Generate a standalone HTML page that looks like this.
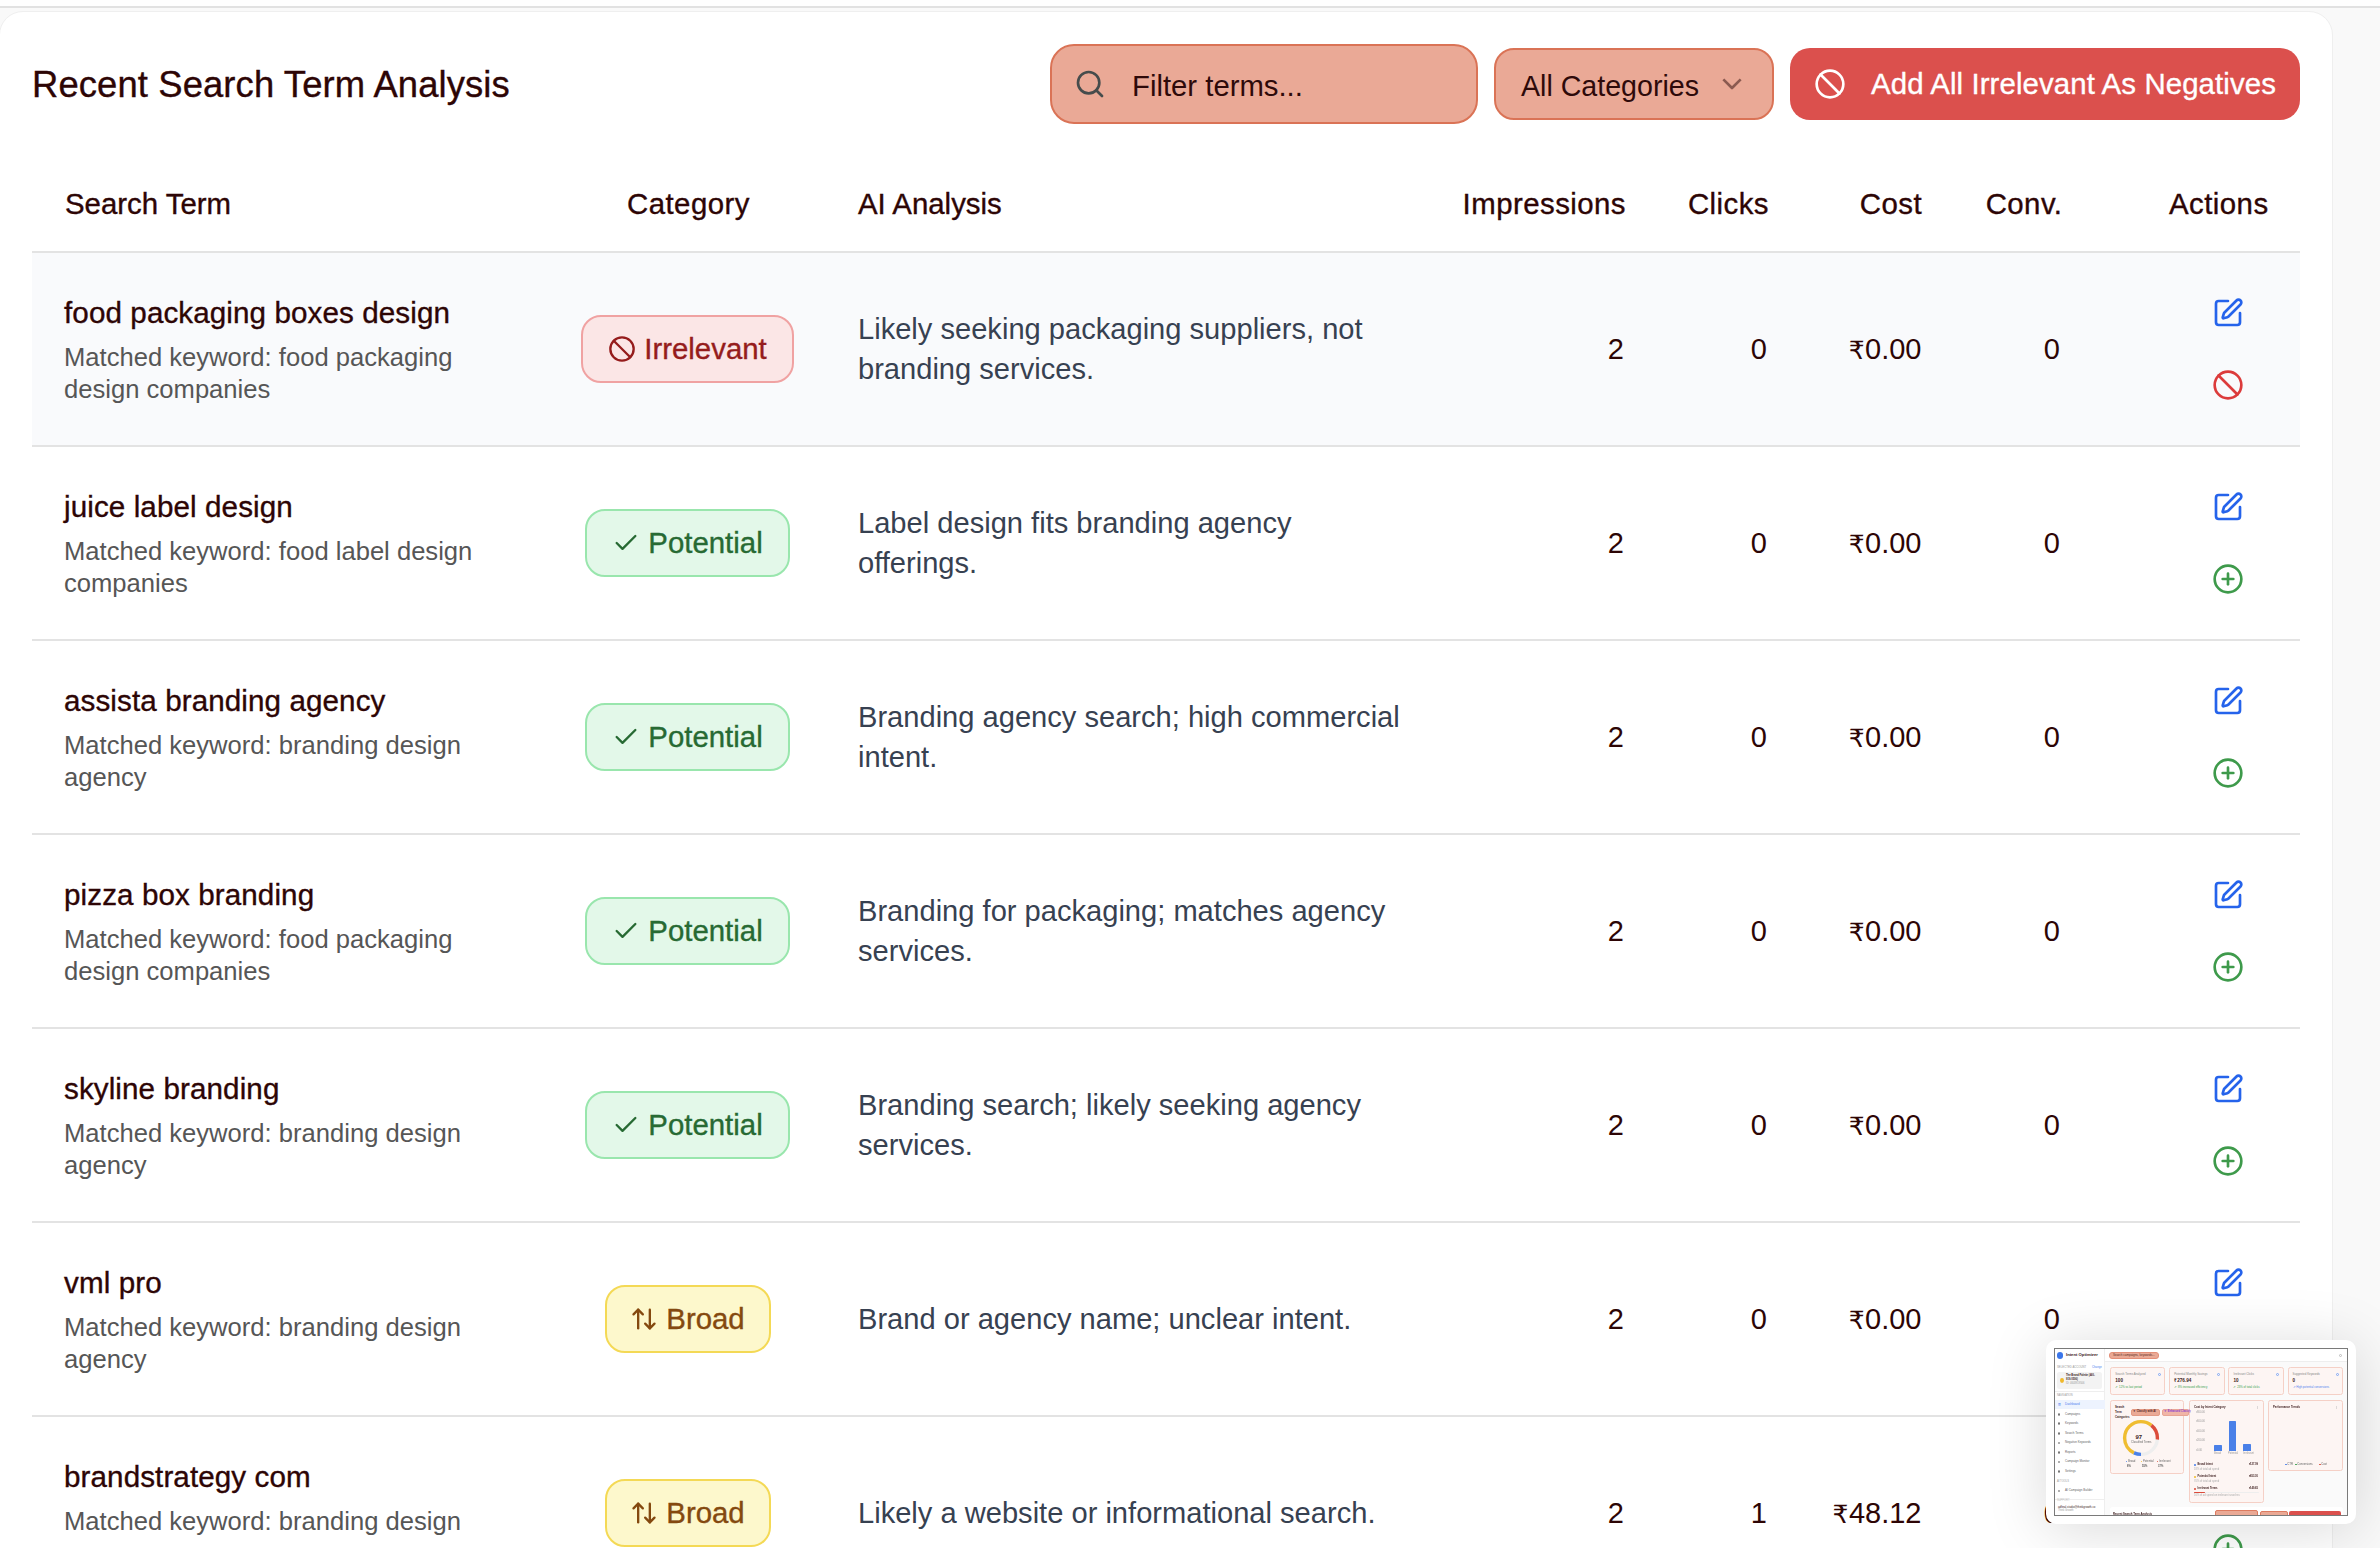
<!DOCTYPE html>
<html><head><meta charset="utf-8">
<title>Recent Search Term Analysis</title>
<style>
*{box-sizing:border-box;margin:0;padding:0}
html,body{width:2380px;height:1548px;overflow:hidden}
body{background:#f9f9f9;font-family:"Liberation Sans","DejaVu Sans",sans-serif;color:#2d0505;position:relative}
h2{font-weight:400}
.topstrip{position:absolute;left:0;top:0;width:2380px;height:6px;background:#fefefe}
.topline{position:absolute;left:0;top:6px;width:2380px;height:2px;background:#e1e1e1}
.card{position:absolute;left:-1px;top:11px;width:2334px;height:1600px;background:#fff;border:1px solid #efefef;border-radius:24px}
.abs{position:absolute;white-space:nowrap;line-height:1}
.med{-webkit-text-stroke:0.35px currentColor}
.input{position:absolute;left:1050px;top:44px;width:428px;height:80px;background:#eaa996;border:2px solid #da7356;border-radius:24px}
.select{position:absolute;left:1494px;top:48px;width:280px;height:72px;background:#eaa996;border:2px solid #da7356;border-radius:20px}
.btn{position:absolute;left:1790px;top:48px;width:510px;height:72px;background:#db504d;border-radius:20px}
.ph{font-size:29.3px;color:#2e0a0a}
.btxt{font-size:29.4px;color:#fff}
.th{font-size:29.4px}
.hline{position:absolute;left:32px;top:251px;width:2268px;height:2px;background:#e3e3e3}
.row{position:absolute;left:32px;width:2268px;height:194px}
.row .bg{position:absolute;left:0;top:0;width:2268px;height:192px}
.row.hl .bg{background:#f9fafc}
.row .ln{position:absolute;left:0;top:192px;width:2268px;height:2px;background:#e3e3e3}
.term{font-size:29.6px;letter-spacing:0.1px}
.kw{font-size:25.6px;line-height:32px;color:#565656}
.ai{font-size:29.1px;line-height:40px;color:#374151}
.num{font-size:29px}
.badge{position:absolute;height:68px;border:2px solid;border-radius:20px;display:flex;align-items:center;justify-content:center;font-size:29.4px;line-height:1;white-space:nowrap}
.badge .bic{width:28px;height:28px;fill:none;stroke:currentColor;stroke-width:2;stroke-linecap:round;stroke-linejoin:round;margin-right:8px;flex:none}
.b-irr{background:#fbe6e6;border-color:#f0a2a2;color:#951c1c}
.b-pot{background:#e3f8e9;border-color:#99e6ad;color:#276a33}
.b-brd{background:#fdf8cc;border-color:#f4d955;color:#84490f}
.ic{position:absolute;fill:none;stroke:currentColor;stroke-linecap:round;stroke-linejoin:round;overflow:visible}
.title{left:32px;letter-spacing:0.12px}

.rs{font-size:0.86em;margin-right:0.5px}
.ls{letter-spacing:0.45px}
.btxt{letter-spacing:0.1px}

</style></head><body>
<div class="topstrip"></div><div class="topline"></div><div class="card"></div>
<h2 class="abs med title" style="top:67.19px;font-size:36.4px">Recent Search Term Analysis</h2>
<div class="input"></div>
<svg class="ic" style="left:1074px;top:68px;width:32px;height:32px;color:#464c4c" viewBox="0 0 24 24" stroke-width="2"><circle cx="11" cy="11" r="8"/><path d="m21 21-4.3-4.3"/></svg>
<div class="abs ph" style="left:1132px;top:71.20px">Filter terms...</div>
<div class="select"></div>
<div class="abs ph" style="left:1521px;top:71.79px;font-size:28.6px">All Categories</div>
<svg class="ic" style="left:1716px;top:68px;width:32px;height:32px;color:#8b5a50;stroke-linecap:butt;stroke-linejoin:round" viewBox="0 0 24 24" stroke-width="2"><path d="M5.5 8.5 12 15l6.5-6.5"/></svg>
<div class="btn"></div>
<svg class="ic" style="left:1814px;top:68px;width:32px;height:32px;color:#ffffff" viewBox="0 0 24 24" stroke-width="2"><circle cx="12" cy="12" r="10"/><path d="m4.9 4.9 14.2 14.2"/></svg>
<div class="abs med btxt" style="left:1871px;top:69.11px">Add All Irrelevant As Negatives</div>
<div class="abs med th" style="left:65px;top:189.11px">Search Term</div>
<div class="abs med th ls" style="left:627px;top:189.11px">Category</div>
<div class="abs med th" style="left:858px;top:189.11px">AI Analysis</div>
<div class="abs med th ls" style="right:754px;top:189.11px">Impressions</div>
<div class="abs med th ls" style="right:611px;top:189.11px">Clicks</div>
<div class="abs med th ls" style="right:458px;top:189.11px">Cost</div>
<div class="abs med th ls" style="right:317.5px;top:189.11px">Conv.</div>
<div class="abs med th ls" style="left:2169px;top:189.11px">Actions</div>
<div class="hline"></div>
<div class="row hl" style="top:253px"><div class="bg"></div><div class="ln"></div></div>
<div class="abs med term" style="left:64px;top:297.94px">food packaging boxes design</div>
<div class="abs kw" style="left:64px;top:341.13px">Matched keyword: food packaging<br>design companies</div>
<div class="badge b-irr" style="left:581.0px;top:315px;width:213px"><svg class="bic" viewBox="0 0 24 24"><circle cx="12" cy="12" r="10"/><path d="m4.9 4.9 14.2 14.2"/></svg><span class="med">Irrelevant</span></div>
<div class="abs ai" style="left:858px;top:308.92px">Likely seeking packaging suppliers, not<br>branding services.</div>
<div class="abs num" style="right:756px;top:334.95px">2</div>
<div class="abs num" style="right:613px;top:334.95px">0</div>
<div class="abs num" style="right:458.5px;top:334.95px"><span class="rs">₹</span>0.00</div>
<div class="abs num" style="right:320px;top:334.95px">0</div>
<svg class="ic" style="left:2212px;top:297.4px;width:32px;height:32px;color:#2563eb" viewBox="0 0 24 24" stroke-width="2"><path d="M12 3H5a2 2 0 0 0-2 2v14a2 2 0 0 0 2 2h14a2 2 0 0 0 2-2v-7"/><path d="M18.375 2.625a1 1 0 0 1 3 3l-9.013 9.014a2 2 0 0 1-.853.505l-2.873.84a.5.5 0 0 1-.62-.62l.84-2.873a2 2 0 0 1 .506-.852z"/></svg>
<svg class="ic" style="left:2212px;top:368.7px;width:32px;height:32px;color:#dc3b3b" viewBox="0 0 24 24" stroke-width="2"><circle cx="12" cy="12" r="10"/><path d="m4.9 4.9 14.2 14.2"/></svg>
<div class="row" style="top:447px"><div class="bg"></div><div class="ln"></div></div>
<div class="abs med term" style="left:64px;top:491.94px">juice label design</div>
<div class="abs kw" style="left:64px;top:535.13px">Matched keyword: food label design<br>companies</div>
<div class="badge b-pot" style="left:585.0px;top:509px;width:205px"><svg class="bic" viewBox="0 0 24 24"><path d="M20 6 9 17l-5-5"/></svg><span class="med">Potential</span></div>
<div class="abs ai" style="left:858px;top:502.92px">Label design fits branding agency<br>offerings.</div>
<div class="abs num" style="right:756px;top:528.95px">2</div>
<div class="abs num" style="right:613px;top:528.95px">0</div>
<div class="abs num" style="right:458.5px;top:528.95px"><span class="rs">₹</span>0.00</div>
<div class="abs num" style="right:320px;top:528.95px">0</div>
<svg class="ic" style="left:2212px;top:491.4px;width:32px;height:32px;color:#2563eb" viewBox="0 0 24 24" stroke-width="2"><path d="M12 3H5a2 2 0 0 0-2 2v14a2 2 0 0 0 2 2h14a2 2 0 0 0 2-2v-7"/><path d="M18.375 2.625a1 1 0 0 1 3 3l-9.013 9.014a2 2 0 0 1-.853.505l-2.873.84a.5.5 0 0 1-.62-.62l.84-2.873a2 2 0 0 1 .506-.852z"/></svg>
<svg class="ic" style="left:2212px;top:562.7px;width:32px;height:32px;color:#3e9a4b" viewBox="0 0 24 24" stroke-width="2"><circle cx="12" cy="12" r="10"/><path d="M8 12h8"/><path d="M12 8v8"/></svg>
<div class="row" style="top:641px"><div class="bg"></div><div class="ln"></div></div>
<div class="abs med term" style="left:64px;top:685.94px">assista branding agency</div>
<div class="abs kw" style="left:64px;top:729.13px">Matched keyword: branding design<br>agency</div>
<div class="badge b-pot" style="left:585.0px;top:703px;width:205px"><svg class="bic" viewBox="0 0 24 24"><path d="M20 6 9 17l-5-5"/></svg><span class="med">Potential</span></div>
<div class="abs ai" style="left:858px;top:696.92px">Branding agency search; high commercial<br>intent.</div>
<div class="abs num" style="right:756px;top:722.95px">2</div>
<div class="abs num" style="right:613px;top:722.95px">0</div>
<div class="abs num" style="right:458.5px;top:722.95px"><span class="rs">₹</span>0.00</div>
<div class="abs num" style="right:320px;top:722.95px">0</div>
<svg class="ic" style="left:2212px;top:685.4px;width:32px;height:32px;color:#2563eb" viewBox="0 0 24 24" stroke-width="2"><path d="M12 3H5a2 2 0 0 0-2 2v14a2 2 0 0 0 2 2h14a2 2 0 0 0 2-2v-7"/><path d="M18.375 2.625a1 1 0 0 1 3 3l-9.013 9.014a2 2 0 0 1-.853.505l-2.873.84a.5.5 0 0 1-.62-.62l.84-2.873a2 2 0 0 1 .506-.852z"/></svg>
<svg class="ic" style="left:2212px;top:756.7px;width:32px;height:32px;color:#3e9a4b" viewBox="0 0 24 24" stroke-width="2"><circle cx="12" cy="12" r="10"/><path d="M8 12h8"/><path d="M12 8v8"/></svg>
<div class="row" style="top:835px"><div class="bg"></div><div class="ln"></div></div>
<div class="abs med term" style="left:64px;top:879.94px">pizza box branding</div>
<div class="abs kw" style="left:64px;top:923.13px">Matched keyword: food packaging<br>design companies</div>
<div class="badge b-pot" style="left:585.0px;top:897px;width:205px"><svg class="bic" viewBox="0 0 24 24"><path d="M20 6 9 17l-5-5"/></svg><span class="med">Potential</span></div>
<div class="abs ai" style="left:858px;top:890.92px">Branding for packaging; matches agency<br>services.</div>
<div class="abs num" style="right:756px;top:916.95px">2</div>
<div class="abs num" style="right:613px;top:916.95px">0</div>
<div class="abs num" style="right:458.5px;top:916.95px"><span class="rs">₹</span>0.00</div>
<div class="abs num" style="right:320px;top:916.95px">0</div>
<svg class="ic" style="left:2212px;top:879.4px;width:32px;height:32px;color:#2563eb" viewBox="0 0 24 24" stroke-width="2"><path d="M12 3H5a2 2 0 0 0-2 2v14a2 2 0 0 0 2 2h14a2 2 0 0 0 2-2v-7"/><path d="M18.375 2.625a1 1 0 0 1 3 3l-9.013 9.014a2 2 0 0 1-.853.505l-2.873.84a.5.5 0 0 1-.62-.62l.84-2.873a2 2 0 0 1 .506-.852z"/></svg>
<svg class="ic" style="left:2212px;top:950.7px;width:32px;height:32px;color:#3e9a4b" viewBox="0 0 24 24" stroke-width="2"><circle cx="12" cy="12" r="10"/><path d="M8 12h8"/><path d="M12 8v8"/></svg>
<div class="row" style="top:1029px"><div class="bg"></div><div class="ln"></div></div>
<div class="abs med term" style="left:64px;top:1073.94px">skyline branding</div>
<div class="abs kw" style="left:64px;top:1117.13px">Matched keyword: branding design<br>agency</div>
<div class="badge b-pot" style="left:585.0px;top:1091px;width:205px"><svg class="bic" viewBox="0 0 24 24"><path d="M20 6 9 17l-5-5"/></svg><span class="med">Potential</span></div>
<div class="abs ai" style="left:858px;top:1084.92px">Branding search; likely seeking agency<br>services.</div>
<div class="abs num" style="right:756px;top:1110.95px">2</div>
<div class="abs num" style="right:613px;top:1110.95px">0</div>
<div class="abs num" style="right:458.5px;top:1110.95px"><span class="rs">₹</span>0.00</div>
<div class="abs num" style="right:320px;top:1110.95px">0</div>
<svg class="ic" style="left:2212px;top:1073.4px;width:32px;height:32px;color:#2563eb" viewBox="0 0 24 24" stroke-width="2"><path d="M12 3H5a2 2 0 0 0-2 2v14a2 2 0 0 0 2 2h14a2 2 0 0 0 2-2v-7"/><path d="M18.375 2.625a1 1 0 0 1 3 3l-9.013 9.014a2 2 0 0 1-.853.505l-2.873.84a.5.5 0 0 1-.62-.62l.84-2.873a2 2 0 0 1 .506-.852z"/></svg>
<svg class="ic" style="left:2212px;top:1144.7px;width:32px;height:32px;color:#3e9a4b" viewBox="0 0 24 24" stroke-width="2"><circle cx="12" cy="12" r="10"/><path d="M8 12h8"/><path d="M12 8v8"/></svg>
<div class="row" style="top:1223px"><div class="bg"></div><div class="ln"></div></div>
<div class="abs med term" style="left:64px;top:1267.94px">vml pro</div>
<div class="abs kw" style="left:64px;top:1311.13px">Matched keyword: branding design<br>agency</div>
<div class="badge b-brd" style="left:604.5px;top:1285px;width:166px"><svg class="bic" viewBox="0 0 24 24"><path d="m21 16-4 4-4-4"/><path d="M17 20V4"/><path d="m3 8 4-4 4 4"/><path d="M7 4v16"/></svg><span class="med">Broad</span></div>
<div class="abs ai" style="left:858px;top:1298.92px">Brand or agency name; unclear intent.</div>
<div class="abs num" style="right:756px;top:1304.95px">2</div>
<div class="abs num" style="right:613px;top:1304.95px">0</div>
<div class="abs num" style="right:458.5px;top:1304.95px"><span class="rs">₹</span>0.00</div>
<div class="abs num" style="right:320px;top:1304.95px">0</div>
<svg class="ic" style="left:2212px;top:1267.4px;width:32px;height:32px;color:#2563eb" viewBox="0 0 24 24" stroke-width="2"><path d="M12 3H5a2 2 0 0 0-2 2v14a2 2 0 0 0 2 2h14a2 2 0 0 0 2-2v-7"/><path d="M18.375 2.625a1 1 0 0 1 3 3l-9.013 9.014a2 2 0 0 1-.853.505l-2.873.84a.5.5 0 0 1-.62-.62l.84-2.873a2 2 0 0 1 .506-.852z"/></svg>
<svg class="ic" style="left:2212px;top:1338.7px;width:32px;height:32px;color:#3e9a4b" viewBox="0 0 24 24" stroke-width="2"><circle cx="12" cy="12" r="10"/><path d="M8 12h8"/><path d="M12 8v8"/></svg>
<div class="row" style="top:1417px"><div class="bg"></div><div class="ln"></div></div>
<div class="abs med term" style="left:64px;top:1461.94px">brandstrategy com</div>
<div class="abs kw" style="left:64px;top:1505.13px">Matched keyword: branding design<br>agency</div>
<div class="badge b-brd" style="left:604.5px;top:1479px;width:166px"><svg class="bic" viewBox="0 0 24 24"><path d="m21 16-4 4-4-4"/><path d="M17 20V4"/><path d="m3 8 4-4 4 4"/><path d="M7 4v16"/></svg><span class="med">Broad</span></div>
<div class="abs ai" style="left:858px;top:1492.92px">Likely a website or informational search.</div>
<div class="abs num" style="right:756px;top:1498.95px">2</div>
<div class="abs num" style="right:613px;top:1498.95px">1</div>
<div class="abs num" style="right:458.5px;top:1498.95px"><span class="rs">₹</span>48.12</div>
<div class="abs num" style="right:320px;top:1498.95px">0</div>
<svg class="ic" style="left:2212px;top:1461.4px;width:32px;height:32px;color:#2563eb" viewBox="0 0 24 24" stroke-width="2"><path d="M12 3H5a2 2 0 0 0-2 2v14a2 2 0 0 0 2 2h14a2 2 0 0 0 2-2v-7"/><path d="M18.375 2.625a1 1 0 0 1 3 3l-9.013 9.014a2 2 0 0 1-.853.505l-2.873.84a.5.5 0 0 1-.62-.62l.84-2.873a2 2 0 0 1 .506-.852z"/></svg>
<svg class="ic" style="left:2212px;top:1532.7px;width:32px;height:32px;color:#3e9a4b" viewBox="0 0 24 24" stroke-width="2"><circle cx="12" cy="12" r="10"/><path d="M8 12h8"/><path d="M12 8v8"/></svg>
<div style="position:absolute;left:2046px;top:1340px;width:310px;height:184px;background:#fff;border-radius:10px;box-shadow:0 6px 60px rgba(0,0,0,0.15)"></div>
<div style="position:absolute;left:2054px;top:1348px;width:294px;height:168px;border:1px solid #7a7a7a;overflow:hidden;background:#fff;font-family:'Liberation Sans',sans-serif">
<div style="position:absolute;left:-1px;top:-1px;width:294px;height:168px;filter:blur(0.35px)">
<div style="position:absolute;left:0.0px;top:0.0px;width:294.0px;height:168.0px;background:#fafafa"></div>
<div style="position:absolute;left:0.0px;top:0.0px;width:51.0px;height:168.0px;background:#fff;border-right:0.5px solid #eee"></div>
<div style="position:absolute;left:51.0px;top:0.0px;width:243.0px;height:14.0px;background:#fff;border-bottom:0.5px solid #eee"></div>
<div style="position:absolute;left:3.0px;top:4.2px;width:6.4px;height:6.4px;background:#3b76ea;border-radius:50%"></div>
<div style="position:absolute;left:12.0px;top:5.1px;font-size:4.2px;line-height:1;color:#3a1a1a;white-space:nowrap;font-weight:bold">Intent Optimizer</div>
<div style="position:absolute;left:54.8px;top:3.7px;width:50.5px;height:7.3px;background:#eaa995;border:0.4px solid #e38f78;border-radius:3px"></div>
<div style="position:absolute;left:59.0px;top:5.8px;font-size:3px;line-height:1;color:#5a2a20;white-space:nowrap;">Search campaigns, keywords...</div>
<div style="position:absolute;left:285.0px;top:5.5px;width:3.0px;height:3.0px;border:0.5px solid #bbb;border-radius:50%"></div>
<div style="position:absolute;left:3.0px;top:17.5px;font-size:2.8px;line-height:1;color:#999;white-space:nowrap;">SELECTED ACCOUNT</div>
<div style="position:absolute;left:38.0px;top:17.5px;font-size:2.8px;line-height:1;color:#4d7ff0;white-space:nowrap;">Change</div>
<div style="position:absolute;left:3.0px;top:24.0px;width:45.0px;height:16.5px;background:#f3f3f3;border-radius:2.5px"></div>
<div style="position:absolute;left:5.5px;top:29.5px;width:4.5px;height:5.5px;background:#f0b92c;border-radius:50%"></div>
<div style="position:absolute;left:12.0px;top:27.1px;font-size:2.6px;line-height:1;color:#3a1a1a;white-space:nowrap;font-weight:bold">The Brand Palette (460-</div>
<div style="position:absolute;left:12.0px;top:31.1px;font-size:2.6px;line-height:1;color:#3a1a1a;white-space:nowrap;font-weight:bold">919-0506)</div>
<div style="position:absolute;left:12.0px;top:35.1px;font-size:2.6px;line-height:1;color:#999;white-space:nowrap;">ID: 4603919506</div>
<div style="position:absolute;left:0.0px;top:43.0px;width:51.0px;height:0.6px;background:#eee"></div>
<div style="position:absolute;left:3.0px;top:46.9px;font-size:2.6px;line-height:1;color:#999;white-space:nowrap;">NAVIGATION</div>
<div style="position:absolute;left:0.0px;top:52.3px;width:51.0px;height:8.7px;background:#edf3fe"></div>
<div style="position:absolute;left:4.0px;top:54.9px;font-size:3px;line-height:1;color:#4d7ff0;white-space:nowrap;">▥</div>
<div style="position:absolute;left:11.0px;top:54.9px;font-size:3px;line-height:1;color:#4d7ff0;white-space:nowrap;">Dashboard</div>
<div style="position:absolute;left:3.5px;top:64.9px;width:2.8px;height:2.8px;border:0.5px solid #777;border-radius:50%"></div>
<div style="position:absolute;left:11.0px;top:64.6px;font-size:3px;line-height:1;color:#666;white-space:nowrap;">Campaigns</div>
<div style="position:absolute;left:3.5px;top:74.4px;width:2.8px;height:2.8px;border:0.5px solid #777;border-radius:50%"></div>
<div style="position:absolute;left:11.0px;top:74.1px;font-size:3px;line-height:1;color:#666;white-space:nowrap;">Keywords</div>
<div style="position:absolute;left:3.5px;top:84.0px;width:2.8px;height:2.8px;border:0.5px solid #777;border-radius:50%"></div>
<div style="position:absolute;left:11.0px;top:83.8px;font-size:3px;line-height:1;color:#666;white-space:nowrap;">Search Terms</div>
<div style="position:absolute;left:3.5px;top:93.6px;width:2.8px;height:2.8px;border:0.5px solid #777;border-radius:50%"></div>
<div style="position:absolute;left:11.0px;top:93.3px;font-size:3px;line-height:1;color:#666;white-space:nowrap;">Negative Keywords</div>
<div style="position:absolute;left:3.5px;top:103.2px;width:2.8px;height:2.8px;border:0.5px solid #777;border-radius:50%"></div>
<div style="position:absolute;left:11.0px;top:102.9px;font-size:3px;line-height:1;color:#666;white-space:nowrap;">Reports</div>
<div style="position:absolute;left:3.5px;top:112.7px;width:2.8px;height:2.8px;border:0.5px solid #777;border-radius:50%"></div>
<div style="position:absolute;left:11.0px;top:112.4px;font-size:3px;line-height:1;color:#666;white-space:nowrap;">Campaign Monitor</div>
<div style="position:absolute;left:3.5px;top:122.3px;width:2.8px;height:2.8px;border:0.5px solid #777;border-radius:50%"></div>
<div style="position:absolute;left:11.0px;top:122.1px;font-size:3px;line-height:1;color:#666;white-space:nowrap;">Settings</div>
<div style="position:absolute;left:3.0px;top:133.4px;font-size:2.6px;line-height:1;color:#999;white-space:nowrap;">AI TOOLS</div>
<div style="position:absolute;left:3.5px;top:141.5px;width:2.8px;height:2.8px;border:0.5px solid #777;border-radius:50%"></div>
<div style="position:absolute;left:11.0px;top:141.3px;font-size:3px;line-height:1;color:#666;white-space:nowrap;">AI Campaign Builder</div>
<div style="position:absolute;left:0.0px;top:151.0px;width:51.0px;height:0.6px;background:#eee"></div>
<div style="position:absolute;left:3.0px;top:152.1px;font-size:2.6px;line-height:1;color:#bbb;white-space:nowrap;">SUPPORT</div>
<div style="position:absolute;left:4.0px;top:157.9px;font-size:2.8px;line-height:1;color:#3a1a1a;white-space:nowrap;">adfinal.studio@thinkgrowth.co</div>
<div style="position:absolute;left:4.0px;top:161.6px;font-size:2.6px;line-height:1;color:#999;white-space:nowrap;">Think Growth</div>
<div style="position:absolute;left:56.3px;top:18.8px;width:55.2px;height:28.3px;background:#fdf5f3;border:0.6px solid #f5d0c6;border-radius:2.5px"></div>
<div style="position:absolute;left:61.3px;top:24.7px;font-size:2.9px;line-height:1;color:#888;white-space:nowrap;">Search Terms Analyzed</div>
<div style="position:absolute;left:104.0px;top:24.6px;width:3.0px;height:3.0px;border:0.6px solid #7ea6f4;border-radius:50%"></div>
<div style="position:absolute;left:61.3px;top:31.1px;font-size:4.6px;line-height:1;color:#3a1a1a;white-space:nowrap;font-weight:bold">100</div>
<div style="position:absolute;left:61.3px;top:38.3px;font-size:2.8px;line-height:1;color:#35a04a;white-space:nowrap;">↗ 12% vs last period</div>
<div style="position:absolute;left:115.2px;top:18.8px;width:55.5px;height:28.3px;background:#fdf5f3;border:0.6px solid #f5d0c6;border-radius:2.5px"></div>
<div style="position:absolute;left:120.2px;top:24.7px;font-size:2.9px;line-height:1;color:#888;white-space:nowrap;">Potential Monthly Savings</div>
<div style="position:absolute;left:163.2px;top:24.6px;width:3.0px;height:3.0px;border:0.6px solid #7ea6f4;border-radius:50%"></div>
<div style="position:absolute;left:120.2px;top:31.1px;font-size:4.6px;line-height:1;color:#3a1a1a;white-space:nowrap;font-weight:bold">₹276.94</div>
<div style="position:absolute;left:120.2px;top:38.3px;font-size:2.8px;line-height:1;color:#35a04a;white-space:nowrap;">↗ 8% increased efficiency</div>
<div style="position:absolute;left:174.4px;top:18.8px;width:55.2px;height:28.3px;background:#fdf5f3;border:0.6px solid #f5d0c6;border-radius:2.5px"></div>
<div style="position:absolute;left:179.4px;top:24.7px;font-size:2.9px;line-height:1;color:#888;white-space:nowrap;">Irrelevant Clicks</div>
<div style="position:absolute;left:222.1px;top:24.6px;width:3.0px;height:3.0px;border:0.6px solid #7ea6f4;border-radius:50%"></div>
<div style="position:absolute;left:179.4px;top:31.1px;font-size:4.6px;line-height:1;color:#3a1a1a;white-space:nowrap;font-weight:bold">10</div>
<div style="position:absolute;left:179.4px;top:38.3px;font-size:2.8px;line-height:1;color:#35a04a;white-space:nowrap;">↗ 23% of total clicks</div>
<div style="position:absolute;left:233.5px;top:18.8px;width:55.5px;height:28.3px;background:#fdf5f3;border:0.6px solid #f5d0c6;border-radius:2.5px"></div>
<div style="position:absolute;left:238.5px;top:24.7px;font-size:2.9px;line-height:1;color:#888;white-space:nowrap;">Suggested Keywords</div>
<div style="position:absolute;left:281.5px;top:24.6px;width:3.0px;height:3.0px;border:0.6px solid #7ea6f4;border-radius:50%"></div>
<div style="position:absolute;left:238.5px;top:31.1px;font-size:4.6px;line-height:1;color:#3a1a1a;white-space:nowrap;font-weight:bold">0</div>
<div style="position:absolute;left:238.5px;top:38.3px;font-size:2.8px;line-height:1;color:#4d7ff0;white-space:nowrap;">↗ High potential conversions</div>
<div style="position:absolute;left:56.3px;top:52.3px;width:74.1px;height:73.7px;background:#fdf5f3;border:0.6px solid #f5d0c6;border-radius:2.5px"></div>
<div style="position:absolute;left:135.4px;top:52.3px;width:74.5px;height:102.3px;background:#fdf5f3;border:0.6px solid #f5d0c6;border-radius:2.5px"></div>
<div style="position:absolute;left:214.3px;top:52.3px;width:74.7px;height:71.1px;background:#fdf5f3;border:0.6px solid #f5d0c6;border-radius:2.5px"></div>
<div style="position:absolute;left:61.0px;top:58.0px;font-size:2.8px;line-height:1;color:#3a1a1a;white-space:nowrap;font-weight:bold">Search</div>
<div style="position:absolute;left:61.0px;top:62.7px;font-size:2.8px;line-height:1;color:#3a1a1a;white-space:nowrap;font-weight:bold">Term</div>
<div style="position:absolute;left:61.0px;top:67.5px;font-size:2.8px;line-height:1;color:#3a1a1a;white-space:nowrap;font-weight:bold">Categories</div>
<div style="position:absolute;left:76.6px;top:61.0px;width:29.0px;height:6.5px;background:#eaa995;border:0.4px solid #e39a85;border-radius:2px"></div>
<div style="position:absolute;left:79.0px;top:62.9px;font-size:2.6px;line-height:1;color:#4a1a1a;white-space:nowrap;font-weight:bold">✦ Classify with AI</div>
<div style="position:absolute;left:107.8px;top:61.0px;width:27.7px;height:6.5px;background:#f0b5a6;border:0.4px solid #e8a595;border-radius:2px"></div>
<div style="position:absolute;left:110.0px;top:62.9px;font-size:2.6px;line-height:1;color:#8a3ad0;white-space:nowrap;font-weight:bold">✦ Enhanced Classify</div>
<svg style="position:absolute;left:66.80000000000018px;top:70.29999999999995px;width:40px;height:40px" viewBox="-20 -20 40 40">
<circle r="16.4" fill="none" stroke="#eeeeee" stroke-width="3.4"/>
<circle r="16.4" fill="none" stroke="#f0bd30" stroke-width="3.4" pathLength="100" stroke-dasharray="54 46" stroke-dashoffset="-57" transform="rotate(-90)"/>
<circle r="16.4" fill="none" stroke="#dc4b3a" stroke-width="3.4" pathLength="100" stroke-dasharray="15.5 84.5" stroke-dashoffset="-11" transform="rotate(-90)"/>
<circle r="16.4" fill="none" stroke="#4a80e8" stroke-width="3.4" pathLength="100" stroke-dasharray="7 93" stroke-dashoffset="-50" transform="rotate(-90)"/>
</svg>
<div style="position:absolute;left:81.5px;top:85.5px;font-size:6px;line-height:1;color:#3a1a1a;white-space:nowrap;font-weight:bold">97</div>
<div style="position:absolute;left:77.0px;top:92.5px;font-size:2.8px;line-height:1;color:#666;white-space:nowrap;">Classified Terms</div>
<div style="position:absolute;left:71.5px;top:112.8px;width:1.6px;height:1.6px;background:#4a80e8;border-radius:50%"></div>
<div style="position:absolute;left:73.9px;top:112.2px;font-size:2.8px;line-height:1;color:#666;white-space:nowrap;">Broad</div>
<div style="position:absolute;left:73.0px;top:117.6px;font-size:2.6px;line-height:1;color:#555;white-space:nowrap;font-weight:bold">8%</div>
<div style="position:absolute;left:86.5px;top:112.8px;width:1.6px;height:1.6px;background:#f0bd30;border-radius:50%"></div>
<div style="position:absolute;left:88.9px;top:112.2px;font-size:2.8px;line-height:1;color:#666;white-space:nowrap;">Potential</div>
<div style="position:absolute;left:88.0px;top:117.6px;font-size:2.6px;line-height:1;color:#555;white-space:nowrap;font-weight:bold">55%</div>
<div style="position:absolute;left:102.5px;top:112.8px;width:1.6px;height:1.6px;background:#dc4b3a;border-radius:50%"></div>
<div style="position:absolute;left:104.9px;top:112.2px;font-size:2.8px;line-height:1;color:#666;white-space:nowrap;">Irrelevant</div>
<div style="position:absolute;left:104.0px;top:117.6px;font-size:2.6px;line-height:1;color:#555;white-space:nowrap;font-weight:bold">37%</div>
<div style="position:absolute;left:140.0px;top:58.0px;font-size:2.8px;line-height:1;color:#3a1a1a;white-space:nowrap;font-weight:bold">Cost by Intent Category</div>
<div style="position:absolute;left:201.6px;top:57.9px;font-size:3px;line-height:1;color:#999;white-space:nowrap;">⋮</div>
<div style="position:absolute;left:142.0px;top:64.1px;font-size:2.6px;line-height:1;color:#999;white-space:nowrap;">₹800.00</div>
<div style="position:absolute;left:142.0px;top:73.4px;font-size:2.6px;line-height:1;color:#999;white-space:nowrap;">₹600.00</div>
<div style="position:absolute;left:142.0px;top:83.0px;font-size:2.6px;line-height:1;color:#999;white-space:nowrap;">₹400.00</div>
<div style="position:absolute;left:142.0px;top:92.4px;font-size:2.6px;line-height:1;color:#999;white-space:nowrap;">₹200.00</div>
<div style="position:absolute;left:142.0px;top:101.7px;font-size:2.6px;line-height:1;color:#999;white-space:nowrap;">₹0.00</div>
<div style="position:absolute;left:159.7px;top:97.2px;width:8.1px;height:6.1px;background:#4a80e8;border-radius:0.6px 0.6px 0 0"></div>
<div style="position:absolute;left:174.6px;top:72.5px;width:7.9px;height:30.8px;background:#4a80e8;border-radius:0.6px 0.6px 0 0"></div>
<div style="position:absolute;left:189.3px;top:96.2px;width:7.9px;height:7.1px;background:#4a80e8;border-radius:0.6px 0.6px 0 0"></div>
<div style="position:absolute;left:160.0px;top:104.6px;font-size:2.6px;line-height:1;color:#999;white-space:nowrap;">Broad</div>
<div style="position:absolute;left:174.0px;top:104.6px;font-size:2.6px;line-height:1;color:#999;white-space:nowrap;">Potential</div>
<div style="position:absolute;left:189.0px;top:104.6px;font-size:2.6px;line-height:1;color:#999;white-space:nowrap;">Irrelevant</div>
<div style="position:absolute;left:140.2px;top:116.1px;width:1.8px;height:1.8px;background:#4a80e8;border-radius:50%"></div>
<div style="position:absolute;left:143.5px;top:115.6px;font-size:2.6px;line-height:1;color:#3a1a1a;white-space:nowrap;font-weight:bold">Broad Intent</div>
<div style="position:absolute;left:195.0px;top:115.6px;font-size:2.6px;line-height:1;color:#3a1a1a;white-space:nowrap;font-weight:bold">₹127.09</div>
<div style="position:absolute;left:140.0px;top:120.6px;font-size:2.6px;line-height:1;color:#aaa;white-space:nowrap;">18% of total ad spend</div>
<div style="position:absolute;left:140.2px;top:128.1px;width:1.8px;height:1.8px;background:#f0bd30;border-radius:50%"></div>
<div style="position:absolute;left:143.5px;top:127.6px;font-size:2.6px;line-height:1;color:#3a1a1a;white-space:nowrap;font-weight:bold">Potential Intent</div>
<div style="position:absolute;left:195.0px;top:127.6px;font-size:2.6px;line-height:1;color:#3a1a1a;white-space:nowrap;font-weight:bold">₹653.30</div>
<div style="position:absolute;left:140.0px;top:132.6px;font-size:2.6px;line-height:1;color:#aaa;white-space:nowrap;">70% of total ad spend</div>
<div style="position:absolute;left:140.2px;top:140.1px;width:1.8px;height:1.8px;background:#dc4b3a;border-radius:50%"></div>
<div style="position:absolute;left:143.5px;top:139.6px;font-size:2.6px;line-height:1;color:#3a1a1a;white-space:nowrap;font-weight:bold">Irrelevant Terms</div>
<div style="position:absolute;left:195.0px;top:139.6px;font-size:2.6px;line-height:1;color:#3a1a1a;white-space:nowrap;font-weight:bold">₹149.65</div>
<div style="position:absolute;left:140.0px;top:146.6px;font-size:2.6px;line-height:1;color:#aaa;white-space:nowrap;">16% of ad spend on irrelevant searches</div>
<div style="position:absolute;left:140.0px;top:144.0px;width:65.0px;height:1.0px;background:#eee;border-radius:0.5px"></div>
<div style="position:absolute;left:140.0px;top:144.0px;width:10.5px;height:1.0px;background:#dc4b3a;border-radius:0.5px"></div>
<div style="position:absolute;left:219.0px;top:58.0px;font-size:2.8px;line-height:1;color:#3a1a1a;white-space:nowrap;font-weight:bold">Performance Trends</div>
<div style="position:absolute;left:281.0px;top:57.9px;font-size:3px;line-height:1;color:#999;white-space:nowrap;">⋮</div>
<div style="position:absolute;left:231.0px;top:115.8px;width:1.6px;height:1.6px;background:#4a80e8;border-radius:50%"></div>
<div style="position:absolute;left:233.2px;top:115.1px;font-size:2.8px;line-height:1;color:#666;white-space:nowrap;">CTR</div>
<div style="position:absolute;left:241.0px;top:115.8px;width:1.6px;height:1.6px;background:#35a04a;border-radius:50%"></div>
<div style="position:absolute;left:243.2px;top:115.1px;font-size:2.8px;line-height:1;color:#666;white-space:nowrap;">Conversions</div>
<div style="position:absolute;left:265.0px;top:115.8px;width:1.6px;height:1.6px;background:#dc4b3a;border-radius:50%"></div>
<div style="position:absolute;left:267.2px;top:115.1px;font-size:2.8px;line-height:1;color:#666;white-space:nowrap;">Cost</div>
<div style="position:absolute;left:56.3px;top:158.5px;width:232.7px;height:13.5px;background:#fff;border-radius:2.5px"></div>
<div style="position:absolute;left:59.0px;top:165.0px;font-size:2.8px;line-height:1;color:#3a1a1a;white-space:nowrap;font-weight:bold">Recent Search Term Analysis</div>
<div style="position:absolute;left:161.0px;top:162.0px;width:43.0px;height:8.0px;background:#eaa995;border:0.5px solid #dd7b60;border-radius:2px"></div>
<div style="position:absolute;left:206.0px;top:162.5px;width:27.5px;height:7.5px;background:#eaa995;border:0.5px solid #dd7b60;border-radius:2px"></div>
<div style="position:absolute;left:235.0px;top:162.5px;width:51.5px;height:7.5px;background:#db504d;border-radius:2px"></div>
</div></div>
<script>(function(){var w=window.innerWidth;if(w&&Math.abs(w-2380)>2){document.documentElement.style.zoom=(w/2380).toString();}})();</script>
</body></html>
